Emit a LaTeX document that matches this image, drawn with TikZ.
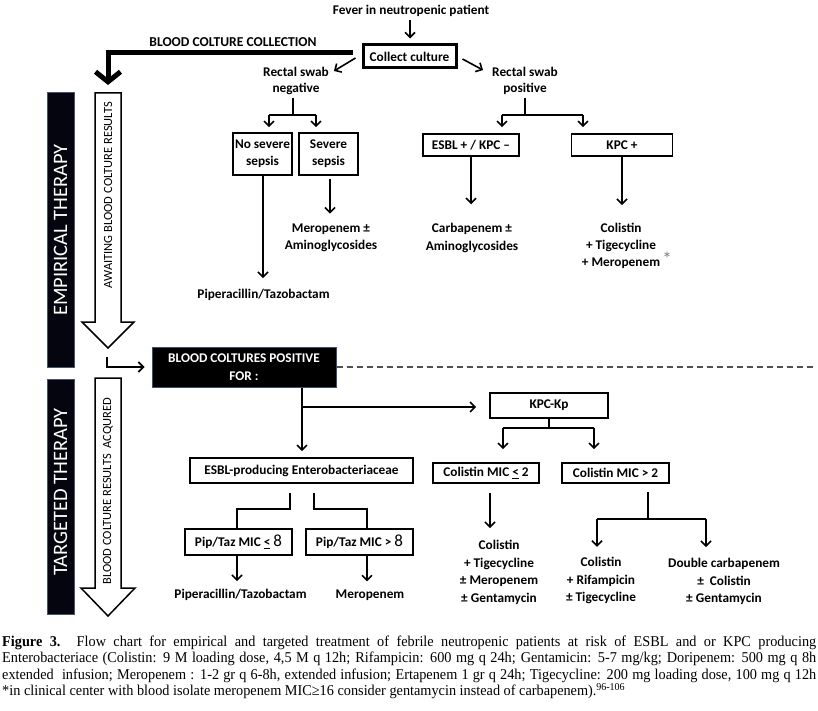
\documentclass[tikz,border=0pt]{standalone}
\usepackage{fontspec}
\setmainfont{Carlito}
\newfontfamily\capfont{Liberation Serif}
\usepackage{graphicx}
\usepackage{xcolor}
\usetikzlibrary{arrows.meta,calc}
\newsavebox\capbox
\newlength\caplen
\newcommand\myfnt{\bfseries\fontsize{13.3}{16}\selectfont}
\newcommand\mycap{\capfont\fontsize{15}{16}\selectfont}
\begin{document}
\begin{tikzpicture}[x=1pt,y=-1pt,
  lbl/.style={font=\myfnt, inner sep=0pt, align=center},
  bx/.style={draw, line width=1.6pt, inner sep=0pt, font=\myfnt, align=center},
  ln/.style={line width=1.6pt},
  arr/.style={line width=1.6pt, -{Straight Barb[length=5pt,width=10pt]}},
  hollow/.style={draw, fill=white, line width=1.5pt, line join=miter},
  bar/.style={fill={rgb,255:red,5;green,5;blue,15}, draw={rgb,255:red,70;green,85;blue,110}, line width=1pt, text=white, inner sep=0pt, rotate=90, font=\fontsize{20.5}{24}\selectfont},
  shafttext/.style={inner sep=0pt, rotate=90, font=\fontsize{12.5}{14}\selectfont},
  capline/.style={anchor=base west, inner sep=0pt}
]
\useasboundingbox (0,0) rectangle (818,711);
\fill[white] (0,0) rectangle (818,711);

% ---------- top ----------
\node[lbl] (fever) at (411,11) {Fever in neutropenic patient};
\node[bx, line width=3pt, minimum width=93, minimum height=23] (collect) at (409.5,56.5) {Collect culture};
\draw[arr, shorten <=3pt, shorten >=5pt] (fever.south -| 410,0) -- (collect.north -| 410,0);

\node[lbl, font=\bfseries\fontsize{13.6}{16}\selectfont] (bcc) at (233,42) {BLOOD COLTURE COLLECTION};
\coordinate (tc) at (353,53);
\coordinate (tctip) at (108,85);
\draw[line width=5pt, -{Straight Barb[length=10pt,width=25pt]}] (tc) -| (tctip);

\node[lbl] (rneg) at (296,81) {Rectal swab\\negative};
\node[lbl] (rpos) at (525,81) {Rectal swab\\positive};
\draw[arr] ($(collect.west)+(-6,1.5)$) -- ($(rneg.north east)+(5,4)$);
\draw[arr] ($(collect.east)+(5,2.5)$) -- ($(rpos.north west)+(-9,3)$);

% negative branch
\node[bx, minimum width=59, minimum height=42, font=\bfseries\fontsize{13.3}{17}\selectfont] (nosev) at (262.5,154) {No severe\\sepsis};
\node[bx, minimum width=59, minimum height=42, font=\bfseries\fontsize{13.3}{17}\selectfont] (sev) at (328.5,154) {Severe\\sepsis};
\coordinate (nj) at (293,115);
\coordinate (na) at (269,115);
\coordinate (nb) at (316,115);
\draw[ln, shorten <=3pt] (rneg.south -| nj) -- (nj);
\draw[ln] (na) -- (nb);
\draw[arr, shorten >=5pt] (na) -- (na |- nosev.north);
\draw[arr, shorten >=5pt] (nb) -- (nb |- sev.north);

\node[lbl] (pip1) at (263.5,295) {Piperacillin/Tazobactam};
\node[lbl, font=\bfseries\fontsize{13.3}{17.5}\selectfont] (mero1) at (331,238) {Meropenem ±\\Aminoglycosides};
\draw[arr, shorten >=11pt] ([xshift=0.5pt]nosev.south) -- ([xshift=0.5pt]nosev.south |- pip1.north);
\draw[arr, shorten <=3pt, shorten >=10pt] (sev.south -| 330,0) -- (mero1.north -| 330,0);

% positive branch
\node[bx, minimum width=96, minimum height=22] (esblkpc) at (471,145) {ESBL + / KPC –};
\node[bx, minimum width=101, minimum height=22] (kpcplus) at (622,145) {KPC +};
\coordinate (pj) at (525,115);
\coordinate (pa) at (502,115);
\coordinate (pb) at (583,115);
\draw[ln, shorten <=3pt] (rpos.south -| pj) -- (pj);
\draw[ln] (pa) -- (pb);
\draw[arr, shorten >=6pt] (pa) -- (pa |- esblkpc.north);
\draw[arr, shorten >=6pt] (pb) -- (pb |- kpcplus.north);

\node[lbl, font=\bfseries\fontsize{13.3}{17.5}\selectfont] (carb) at (472,238) {Carbapenem ±\\Aminoglycosides};
\node[lbl, font=\bfseries\fontsize{13.3}{17}\selectfont] (colk) at (621,246) {Colistin\\+ Tigecycline\\+ Meropenem\rlap{\,\raisebox{1pt}{\mdseries\fontsize{19}{19}\selectfont\color{gray}*}}};
\draw[arr, shorten >=19pt] (esblkpc.south) -- (esblkpc.south |- carb.north);
\draw[arr, shorten >=18pt] (kpcplus.south) -- (kpcplus.south |- colk.north);

% ---------- left bars ----------
\node[bar, minimum width=274, minimum height=27] (emp) at (60.5,230) {EMPIRICAL THERAPY};
\node[bar, minimum width=235, minimum height=27] (tar) at (60.5,496.5) {};
\node[inner sep=0pt, rotate=90, text=white, font=\fontsize{20.5}{24}\selectfont] (tartext) at (60.5,492) {TARGETED THERAPY};

\draw[hollow] (95,93) -- (121,93) -- (121,322) -- (134,322) -- (108,348) -- (82,322) -- (95,322) -- cycle;
\draw[hollow] (95,378) -- (121,378) -- (121,588) -- (135,588) -- (108,616) -- (81,588) -- (95,588) -- cycle;
\node[shafttext] (await) at (108,195) {AWAITING BLOOD COLTURE RESULTS};
\node[shafttext] (acq) at (108,491) {BLOOD COLTURE RESULTS\ \ ACQURED};

% ---------- lower ----------
\node[fill=black, draw={rgb,255:red,60;green,80;blue,110}, line width=1pt, minimum width=184, minimum height=40, inner sep=0pt, text=white, align=center, font=\bfseries\fontsize{13.3}{18}\selectfont] (posbox) at (244,367) {BLOOD COLTURES POSITIVE\\FOR :};
\coordinate (lstart) at (107,357);
\draw[arr, shorten >=7pt] (lstart) |- (posbox.west);
\coordinate (dashend) at (815,367);
\draw[line width=1.2pt, draw={rgb,255:red,80;green,80;blue,80}, dash pattern=on 6pt off 4pt] (posbox.east) -- (dashend);

\node[bx, minimum width=223, minimum height=25] (esbl) at (301.5,470.5) {ESBL-producing Enterobacteriaceae};
\node[bx, minimum width=118, minimum height=25] (kpckp) at (549,405.5) {KPC-Kp};
\coordinate (hj) at (302,407);
\draw[arr, shorten >=6pt] (posbox.south -| hj) -- (hj |- esbl.north);
\draw[arr, shorten >=13pt] (hj) -- (hj -| kpckp.west);

\node[bx, minimum width=106, minimum height=20] (cle) at (486,473) {Colistin MIC \underline{<} 2};
\node[bx, minimum width=107, minimum height=20] (cgt) at (615.5,473) {Colistin MIC > 2};
\coordinate (kj) at (549,428);
\coordinate (ka) at (503,428);
\coordinate (kb) at (594,428);
\draw[ln] (kpckp.south) -- (kj);
\draw[ln] (ka) -- (kb);
\draw[arr, shorten >=13pt] (ka) -- (ka |- cle.north);
\draw[arr, shorten >=13pt] (kb) -- (kb |- cgt.north);

\node[lbl, font=\bfseries\fontsize{13.3}{17.7}\selectfont] (colA) at (499,572.5) {Colistin\\+ Tigecycline\\± Meropenem\\± Gentamycin};
\draw[arr, shorten <=9pt, shorten >=12pt] (cle.south -| 490,0) -- (colA.north -| 490,0);

\coordinate (mj) at (648,519);
\coordinate (ma) at (597,519);
\coordinate (mb) at (706,519);
\draw[ln, shorten <=8pt] (mj |- cgt.south) -- (mj);
\draw[ln] (ma) -- (mb);
\node[lbl, font=\bfseries\fontsize{13.3}{17.7}\selectfont] (colB) at (601,580.5) {Colistin\\+ Rifampicin\\± Tigecycline};
\node[lbl, font=\bfseries\fontsize{13.3}{17.5}\selectfont] (dbl) at (724,581.5) {Double carbapenem\\±\ \ Colistin\\± Gentamycin};
\draw[arr, shorten >=10pt] (ma) -- (ma |- colB.north);
\draw[arr, shorten >=11pt] (mb) -- (mb |- dbl.north);

\node[bx, minimum width=107, minimum height=26] (pl) at (238.5,542) {Pip/Taz MIC \underline{<} {\mdseries\fontsize{17}{17}\selectfont 8}};
\node[bx, minimum width=107, minimum height=26] (pg) at (359.5,542) {Pip/Taz MIC > {\mdseries\fontsize{17}{17}\selectfont 8}};
\coordinate (ej1) at (290,509);
\coordinate (ej2) at (314,509);
\draw[ln, shorten <=9pt] (ej1 |- esbl.south) -- (ej1) -| ([xshift=-1.5pt]pl.north);
\draw[ln, shorten <=9pt] (ej2 |- esbl.south) -- (ej2) -| ([xshift=7.5pt]pg.north);

\node[lbl] (pip2) at (240.5,595) {Piperacillin/Tazobactam};
\node[lbl] (mero2) at (370,595) {Meropenem};
\draw[arr, shorten >=8pt] ([xshift=-1.5pt]pl.south) -- ([xshift=-1.5pt]pl.south |- pip2.north);
\draw[arr, shorten >=8pt] ([xshift=7.5pt]pg.south) -- ([xshift=7.5pt]pg.south |- mero2.north);

% ---------- caption ----------
\node[capline] (cap4) at (2,695.5) {\sbox\capbox{\mycap *in clinical center with blood isolate meropenem MIC≥16 consider gentamycin instead of carbapenem).\textsuperscript{96-106}}\setlength\caplen{\wd\capbox}\pgfmathsetmacro\capfac{623/\caplen}\xdef\capfacg{\capfac}\pgfmathsetlengthmacro\capwa{814/\capfac}\xdef\capwag{\capwa}\scalebox{\capfacg}[1]{\usebox\capbox}};
\node[capline] (cap1) at (2,646) {\scalebox{\capfacg}[1]{\makebox[\capwag][s]{\mycap\textbf{Figure 3.} Flow chart for empirical and targeted treatment of febrile neutropenic patients at risk of ESBL and or KPC producing}}};
\node[capline] (cap2) at (2,662.5) {\scalebox{\capfacg}[1]{\makebox[\capwag][s]{\mycap Enterobacteriace (Colistin: 9 M loading dose, 4,5 M q 12h; Rifampicin: 600 mg q 24h; Gentamicin: 5-7 mg/kg; Doripenem: 500 mg q 8h}}};
\node[capline] (cap3) at (2,679) {\scalebox{\capfacg}[1]{\makebox[\capwag][s]{\mycap extended\ \ infusion; Meropenem : 1-2 gr q 6-8h, extended infusion; Ertapenem 1 gr q 24h; Tigecycline: 200 mg loading dose, 100 mg q 12h}}};
\end{tikzpicture}
\end{document}
